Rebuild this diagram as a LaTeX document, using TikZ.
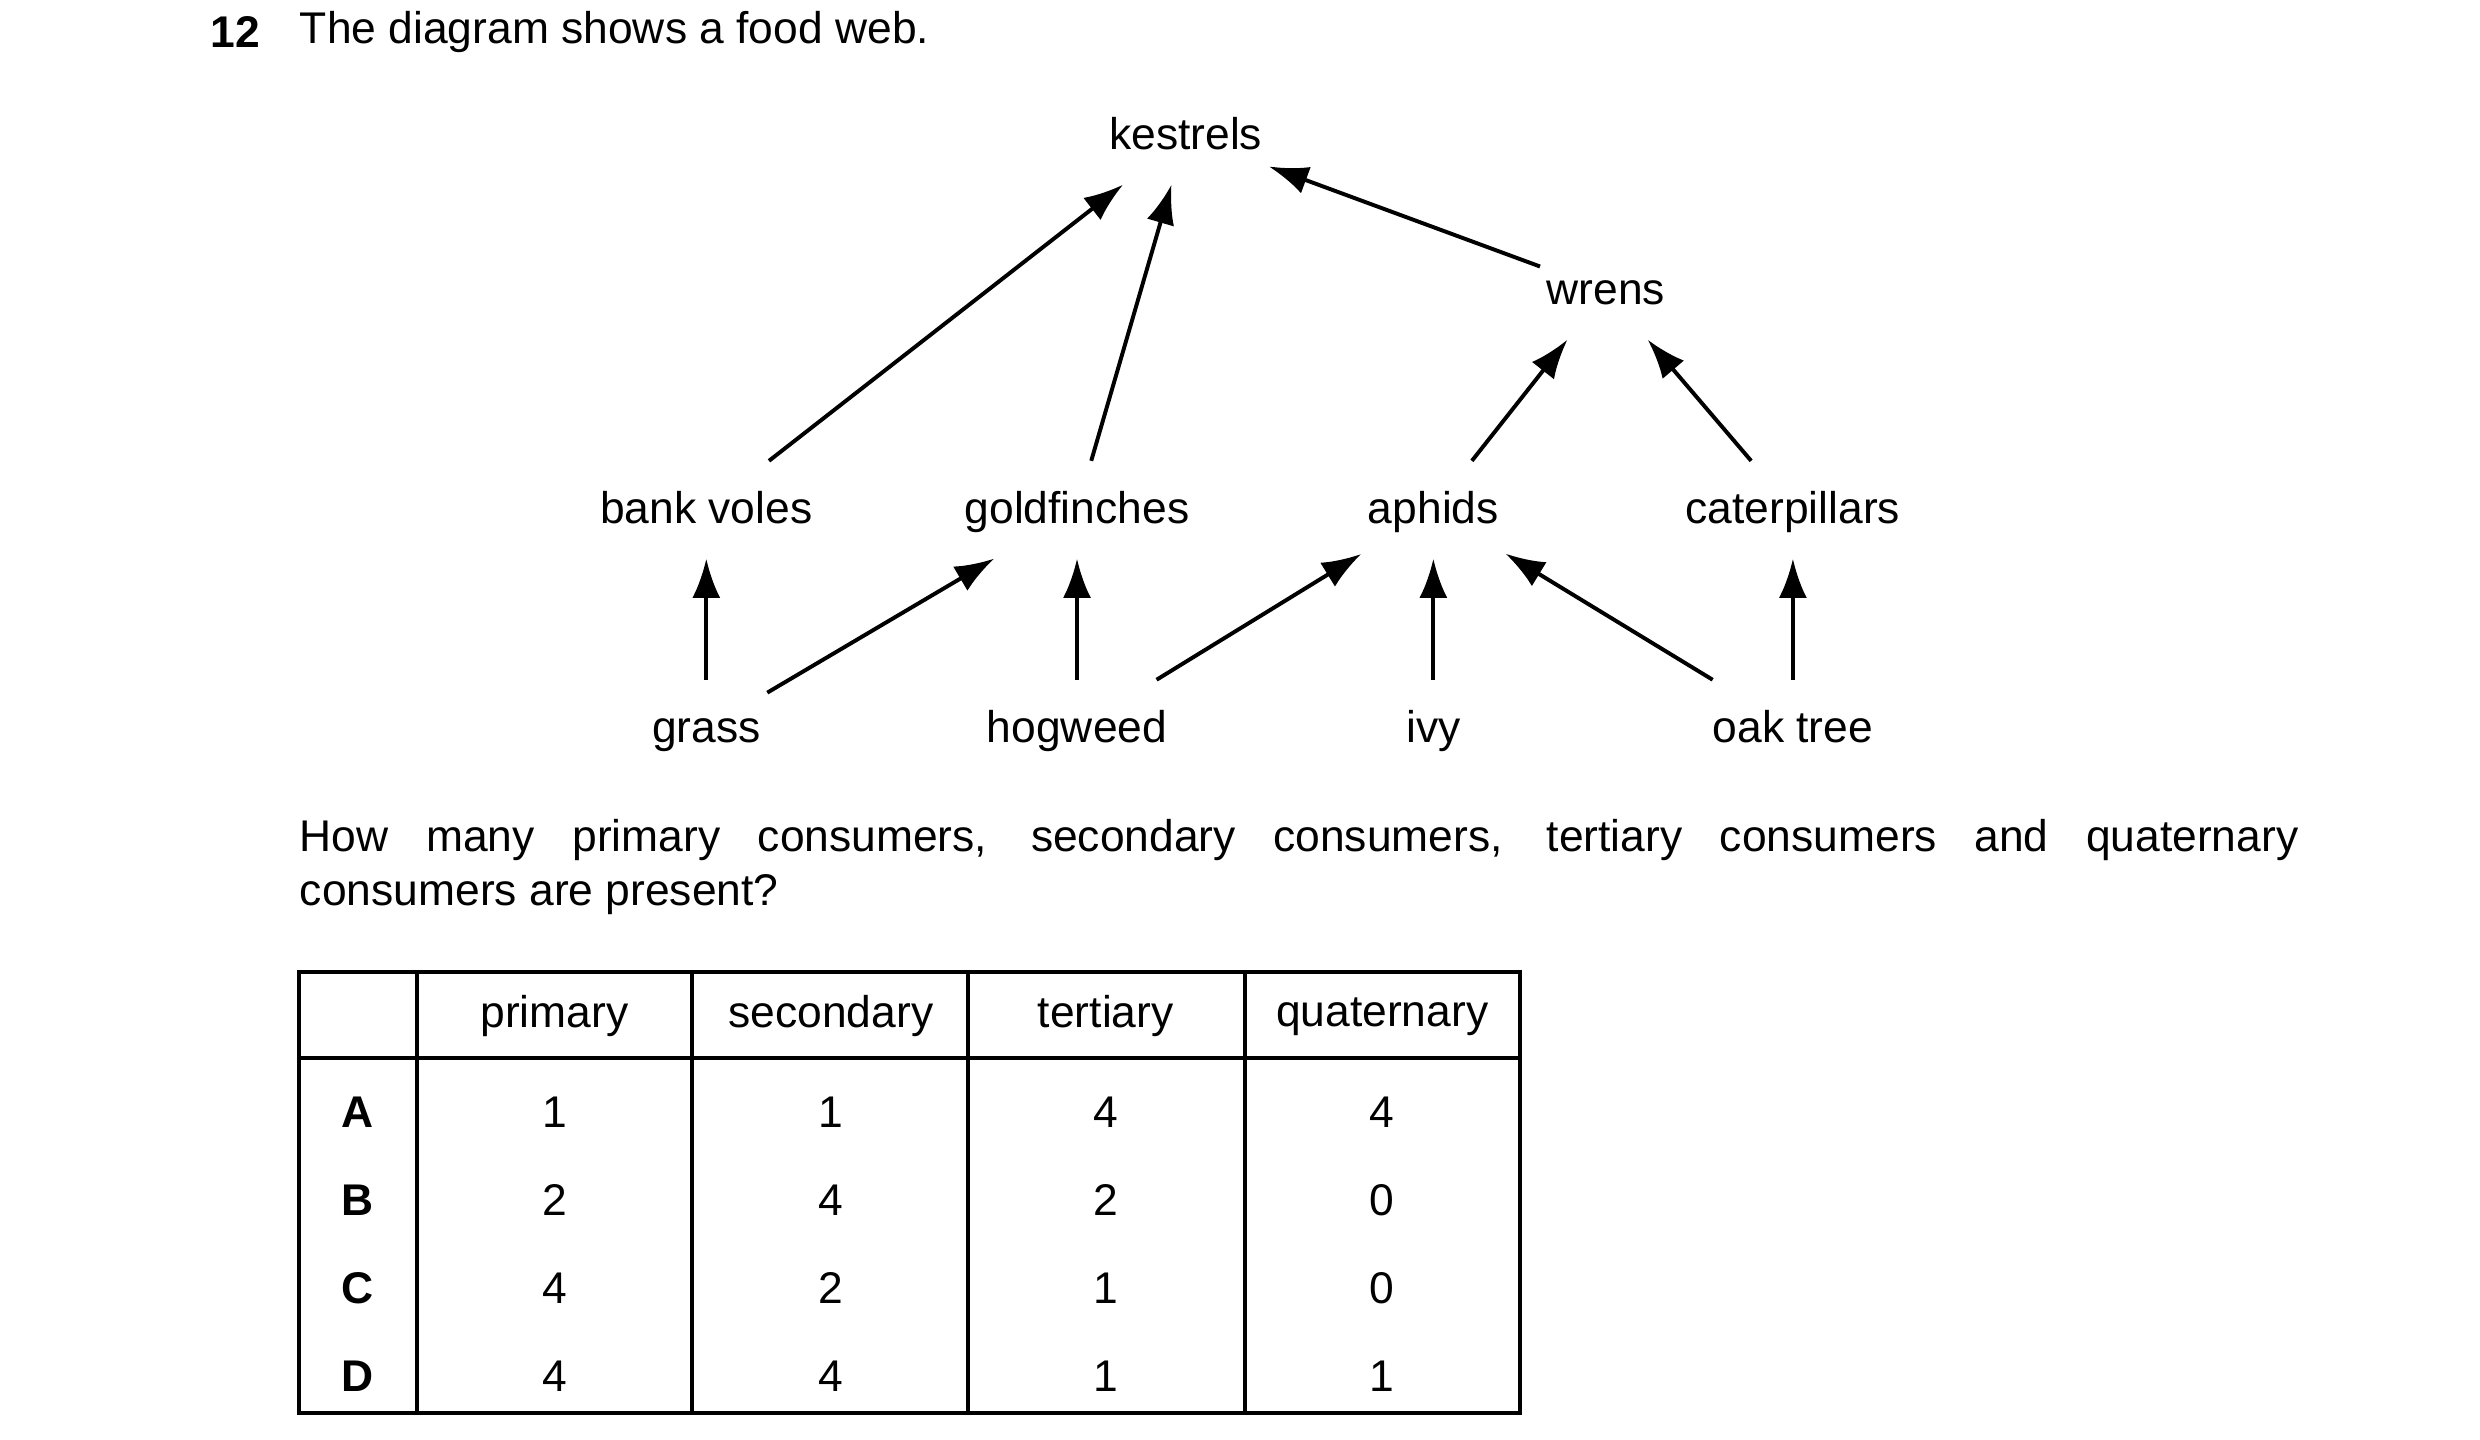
\documentclass[tikz,border=0pt]{standalone}
\usepackage{fontspec}
\setmainfont{Liberation Sans}
\usetikzlibrary{arrows.meta, positioning}

\begin{document}
\begin{tikzpicture}[x=0.01cm, y=-0.01cm, >={Latex[length=7pt,width=5pt]},
    font=\fontsize{7.9}{9.6}\selectfont,
    org/.style={inner xsep=1pt, inner ysep=4pt, text height=7pt, text depth=2pt},
    feeds/.style={->, line width=0.7pt},
    cell/.style={anchor=center}]

    \useasboundingbox (0,0) rectangle (1552,901);

    % heading and question
    \node (num) [anchor=west, inner sep=0pt] at (131,20) {\textbf{12}};
    \node (title) [anchor=west, inner sep=0pt] at (187,20) {The diagram shows a food web.};
    \node (question) [anchor=north west, inner sep=0pt, text width=12.5cm, align=justify]
        at (187,512) {\hyphenpenalty=10000 How many primary consumers, secondary consumers, tertiary consumers and quaternary\linebreak consumers are present?};

    % food web
    \node (kestrels) [org] at (742,85) {kestrels};
    \node (wrens) [org] at (1005,182) {wrens};
    \node (voles) [org] at (442,319) {bank voles};
    \node (goldfinches) [org] at (674,319) {goldfinches};
    \node (aphids) [org] at (897,319) {aphids};
    \node (caterpillars) [org] at (1122,319) {caterpillars};
    \node (grass) [org] at (442,456) {grass};
    \node (hogweed) [org] at (674,456) {hogweed};
    \node (ivy) [org] at (897,456) {ivy};
    \node (oak) [org] at (1122,456) {oak tree};

    \draw [feeds] (voles) -- (kestrels);
    \draw [feeds] (goldfinches) -- (kestrels);
    \draw [feeds] (wrens) -- (kestrels);
    \draw [feeds] (aphids) -- (wrens);
    \draw [feeds] (caterpillars) -- (wrens);
    \draw [feeds] (grass) -- (voles);
    \draw [feeds] (grass) -- (goldfinches);
    \draw [feeds] (hogweed) -- (goldfinches);
    \draw [feeds] (hogweed) -- (aphids);
    \draw [feeds] (ivy) -- (aphids);
    \draw [feeds] (oak) -- (aphids);
    \draw [feeds] (oak) -- (caterpillars);

    % answer table
    \draw [line width=0.7pt] (187,608) rectangle (951,884);
    \draw [line width=0.7pt] (187,662) -- (951,662);
    \foreach \x in {261,433,606,779}
        \draw [line width=0.7pt] (\x,608) -- (\x,884);

    \foreach \head/\x in {primary/347, secondary/520, tertiary/692, quaternary/865}
        \node (h-\head) [cell] at (\x,636) {\head};

    \foreach \key/\y/\a/\b/\c/\d in {A/696/1/1/4/4, B/751/2/4/2/0, C/806/4/2/1/0, D/861/4/4/1/1} {
        \node (k-\key) [cell] at (224,\y) {\textbf{\key}};
        \node (p-\key) [cell] at (347,\y) {\a};
        \node (s-\key) [cell] at (520,\y) {\b};
        \node (t-\key) [cell] at (692,\y) {\c};
        \node (q-\key) [cell] at (865,\y) {\d};
    }

\end{tikzpicture}
\end{document}
